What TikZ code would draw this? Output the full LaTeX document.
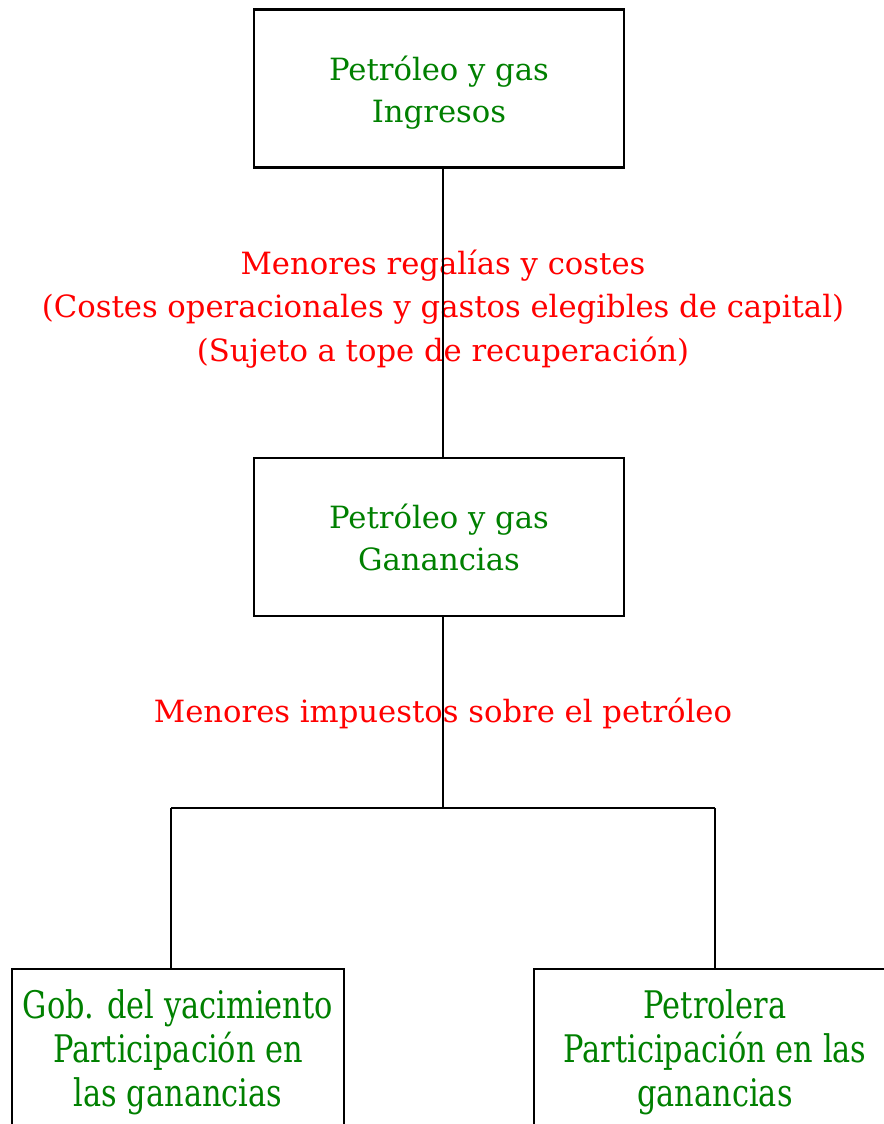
\documentclass[tikz,border=0pt]{standalone}
\usepackage{fontspec}
\setmainfont{DejaVu Serif}
\newfontfamily\narrowfont[FakeStretch=0.8]{DejaVu Serif}
\definecolor{boxgreen}{RGB}{0,128,0}
\definecolor{labred}{RGB}{255,0,0}
\begin{document}
\begin{tikzpicture}[x=0.75pt,y=-0.75pt,
  box/.style={draw=black,line width=1.8pt,minimum width=277.5pt,minimum height=118.5pt,inner sep=0pt,align=center,text=boxgreen,font=\fontsize{23}{31.5}\selectfont},
  lowbox/.style={draw=black,line width=1.8pt,minimum width=249pt,minimum height=150pt,inner sep=0pt},
  lowtext/.style={text=boxgreen,align=center,inner sep=0pt,font=\narrowfont\fontsize{28.5}{33}\selectfont},
  lab/.style={text=labred,align=center,inner sep=0pt,font=\fontsize{23}{32.5}\selectfont},
  conn/.style={draw=black,line width=1.2pt}]
\useasboundingbox (0,0) rectangle (884,1124);
\clip (0,0) rectangle (884,1124);
\node[box] (top) at (439,88.5) {\rule{0pt}{25pt}Petróleo y gas\\Ingresos};
\node[box] (mid) at (439,537) {\rule{0pt}{18pt}Petróleo y gas\\Ganancias};
\node[lowbox] (left) at (178,1069) {};
\node[lowbox,minimum width=270pt] (right) at (714,1069) {};
\node[lowtext] (lt) at (178,1052) {Gob. del yacimiento\\Participación en\\las ganancias};
\node[lowtext] (rt) at (715,1052) {Petrolera\\Participación en las\\ganancias};
\node[lab] (l1) at (443,309) {Menores regalías y costes\\(Costes operacionales y gastos elegibles de capital)\\(Sujeto a tope de recuperación)};
\node[lab] (l2) at (443,713) {Menores impuestos sobre el petróleo};
\coordinate (j) at (443,808);
\coordinate (jl) at (171,808);
\coordinate (jr) at (715,808);
\draw[conn] (top.south -| j) -- (mid.north -| j);
\draw[conn] (mid.south -| j) -- (j);
\draw[conn] (jl) -- (jr);
\draw[conn] (jl) -- (left.north -| jl);
\draw[conn] (jr) -- (right.north -| jr);
\end{tikzpicture}
\end{document}
